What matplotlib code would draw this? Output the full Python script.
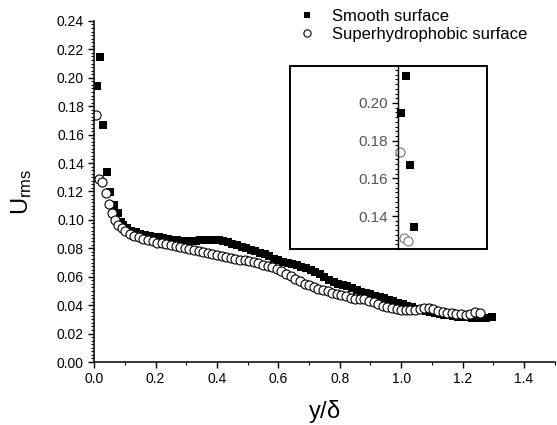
import matplotlib
matplotlib.use("Agg")
import matplotlib.pyplot as plt
from matplotlib.ticker import MultipleLocator, FormatStrFormatter
from matplotlib.patches import Rectangle

plt.rcParams['font.family'] = ['Liberation Sans', 'DejaVu Sans']
plt.rcParams['mathtext.fontset'] = 'custom'
plt.rcParams['mathtext.rm'] = 'Liberation Sans'
plt.rcParams['mathtext.it'] = 'Liberation Sans:italic'

# smooth surface (filled squares)
x_smooth = [0.008, 0.019, 0.029, 0.040, 0.051, 0.065, 0.076, 0.086, 0.095, 0.105,
            0.120, 0.135, 0.150, 0.165, 0.180, 0.195, 0.210, 0.225, 0.240, 0.255,
            0.270, 0.285, 0.300, 0.315, 0.330, 0.345, 0.360, 0.375, 0.390, 0.405,
            0.420, 0.435, 0.450, 0.465, 0.480, 0.495, 0.510, 0.525, 0.540, 0.555,
            0.570, 0.585, 0.600, 0.615, 0.630, 0.645, 0.660, 0.675, 0.690, 0.705,
            0.720, 0.735, 0.750, 0.765, 0.780, 0.795, 0.810, 0.825, 0.840, 0.855,
            0.870, 0.885, 0.900, 0.915, 0.930, 0.945, 0.960, 0.975, 0.990, 1.005,
            1.020, 1.035, 1.050, 1.065, 1.080, 1.095, 1.110, 1.125, 1.140, 1.155,
            1.170, 1.185, 1.200, 1.215, 1.230, 1.245, 1.260, 1.275, 1.295]
u_smooth = [0.1945, 0.2143, 0.1669, 0.1340, 0.1197, 0.1105, 0.1047, 0.0988, 0.0965, 0.0940,
            0.0925, 0.0912, 0.0900, 0.0892, 0.0886, 0.0882, 0.0878, 0.0872, 0.0866, 0.0861,
            0.0857, 0.0853, 0.0851, 0.0851, 0.0853, 0.0856, 0.0858, 0.0859, 0.0858, 0.0855,
            0.0850, 0.0843, 0.0833, 0.0821, 0.0810, 0.0800, 0.0791, 0.0781, 0.0770, 0.0758,
            0.0745, 0.0728, 0.0715, 0.0706, 0.0698, 0.0690, 0.0682, 0.0672, 0.0660, 0.0648,
            0.0634, 0.0618, 0.0600, 0.0578, 0.0563, 0.0552, 0.0543, 0.0533, 0.0522, 0.0510,
            0.0495, 0.0484, 0.0476, 0.0467, 0.0458, 0.0448, 0.0438, 0.0428, 0.0418, 0.0408,
            0.0396, 0.0384, 0.0373, 0.0364, 0.0356, 0.0350, 0.0344, 0.0338, 0.0333, 0.0328,
            0.0324, 0.0320, 0.0317, 0.0315, 0.0313, 0.0312, 0.0312, 0.0313, 0.0315]

# superhydrophobic surface (open circles)
x_shs = [0.005, 0.015, 0.026, 0.037, 0.048, 0.059, 0.068, 0.078, 0.089, 0.100,
         0.115, 0.130, 0.145, 0.160, 0.175, 0.190, 0.205, 0.220, 0.235, 0.250,
         0.265, 0.280, 0.295, 0.310, 0.325, 0.340, 0.355, 0.370, 0.385, 0.400,
         0.415, 0.430, 0.445, 0.460, 0.475, 0.490, 0.505, 0.520, 0.535, 0.550,
         0.565, 0.580, 0.595, 0.610, 0.625, 0.640, 0.655, 0.670, 0.685, 0.700,
         0.715, 0.730, 0.745, 0.760, 0.775, 0.790, 0.805, 0.820, 0.835, 0.850,
         0.865, 0.880, 0.895, 0.910, 0.925, 0.940, 0.955, 0.970, 0.985, 1.000,
         1.015, 1.030, 1.045, 1.060, 1.075, 1.090, 1.105, 1.120, 1.135, 1.150,
         1.165, 1.180, 1.195, 1.210, 1.225, 1.240, 1.258]
u_shs = [0.1740, 0.1286, 0.1270, 0.1190, 0.1115, 0.1050, 0.1000, 0.0964, 0.0940, 0.0922,
         0.0902, 0.0890, 0.0877, 0.0866, 0.0857, 0.0848, 0.0840, 0.0835, 0.0828, 0.0822,
         0.0816, 0.0810, 0.0804, 0.0797, 0.0790, 0.0784, 0.0777, 0.0769, 0.0762, 0.0755,
         0.0747, 0.0739, 0.0732, 0.0726, 0.0720, 0.0715, 0.0709, 0.0702, 0.0694, 0.0686,
         0.0677, 0.0667, 0.0655, 0.0640, 0.0622, 0.0603, 0.0584, 0.0567, 0.0552, 0.0540,
         0.0528, 0.0517, 0.0506, 0.0497, 0.0488, 0.0479, 0.0471, 0.0462, 0.0449, 0.0443,
         0.0446, 0.0442, 0.0432, 0.0420, 0.0408, 0.0397, 0.0389, 0.0380, 0.0373, 0.0369,
         0.0367, 0.0365, 0.0366, 0.0370, 0.0380, 0.0378, 0.0370, 0.0362, 0.0352, 0.0345,
         0.0343, 0.0340, 0.0335, 0.0332, 0.0338, 0.0350, 0.0345]

fig = plt.figure(figsize=(5.57, 4.25), dpi=100)
ax = fig.add_axes([0.1693, 0.1482, 0.8264, 0.8026])

ax.plot(x_smooth, u_smooth, 's', color='black', markersize=6, markeredgewidth=0,
        label='Smooth surface')
ax.plot(x_shs, u_shs, 'o', markerfacecolor='white', markeredgecolor='black',
        markersize=6.5, markeredgewidth=0.8, label='Superhydrophobic surface')

ax.set_xlim(0, 1.5)
ax.set_ylim(0, 0.24)
ax.xaxis.set_major_locator(MultipleLocator(0.2))
ax.xaxis.set_minor_locator(MultipleLocator(0.1))
ax.yaxis.set_major_locator(MultipleLocator(0.02))
ax.yaxis.set_minor_locator(MultipleLocator(0.0025))
ax.xaxis.set_major_formatter(FormatStrFormatter('%.1f'))
ax.yaxis.set_major_formatter(FormatStrFormatter('%.2f'))
ax.set_xticks([0, 0.2, 0.4, 0.6, 0.8, 1.0, 1.2, 1.4])
ax.spines['top'].set_visible(False)
ax.spines['right'].set_visible(False)
for s in ['left', 'bottom']:
    ax.spines[s].set_linewidth(1.1)
ax.tick_params(which='major', direction='out', length=4, width=1, labelsize=10,
               colors='black')
ax.tick_params(which='minor', direction='out', length=2.5, width=0.8)

ax.set_xlabel(r'y/$\mathregular{\delta}$', fontsize=17, labelpad=8)
ax.set_ylabel(r'$\mathregular{U_{rms}}$', fontsize=17, labelpad=16)

ax.legend(loc='upper left', bbox_to_anchor=(0.51, 1.015), bbox_transform=fig.transFigure,
          frameon=False, fontsize=12, handlelength=1.0, handletextpad=1.0,
          labelspacing=0.2, markerscale=0.8)

# inset, zoom on the near-wall points
axin = fig.add_axes([0.5207, 0.4141, 0.3537, 0.4306])
axin.plot(x_smooth, u_smooth, 's', color='black', markersize=6, markeredgewidth=0)
axin.plot(x_shs, u_shs, 'o', markerfacecolor='white', markeredgecolor='#777777',
          markersize=6.5, markeredgewidth=0.8)
axin.set_xlim(-0.27, 0.223)
axin.set_ylim(0.1225, 0.2196)
axin.yaxis.set_major_locator(MultipleLocator(0.02))
axin.yaxis.set_minor_locator(MultipleLocator(0.0025))
axin.yaxis.set_major_formatter(FormatStrFormatter('%.2f'))
axin.set_xticks([])
for s in ['top', 'right', 'bottom']:
    axin.spines[s].set_visible(False)
axin.spines['left'].set_position(('data', 0))
axin.spines['left'].set_linewidth(1.0)
axin.tick_params(axis='y', which='major', direction='out', length=4, width=1,
                 labelsize=11, labelcolor='#555555')
axin.tick_params(axis='y', which='minor', direction='out', length=2.5, width=0.8)
axin.add_patch(Rectangle((0, 0), 1, 1, transform=axin.transAxes, fill=False,
                         edgecolor='black', linewidth=1.4, clip_on=False))

fig.savefig('out.png', dpi=100)
